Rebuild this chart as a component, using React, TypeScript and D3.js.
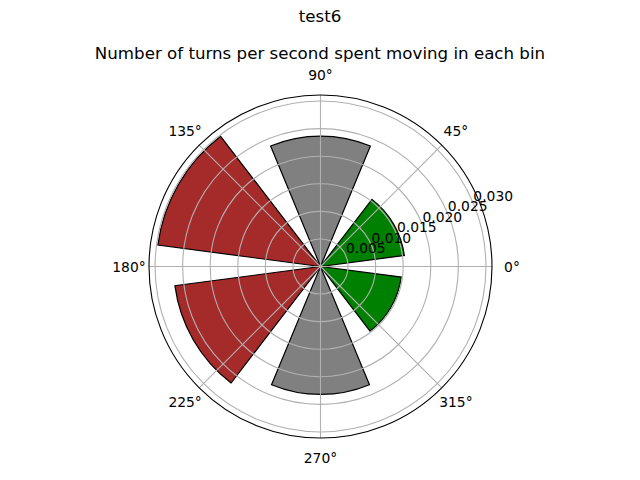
import React, { useRef, useEffect } from 'react';
import * as d3 from 'd3';

// bin centres (degrees) and bar heights
const binCentres = [30, 90, 150, 210, 270, 330];
const binValues = [0.01534, 0.02364, 0.02975, 0.02663, 0.0232, 0.01476];
const binColors = ['green', 'gray', 'brown', 'brown', 'gray', 'green'];
const angleTicks = [0, 45, 90, 135, 180, 225, 270, 315];
const radialTicks = [0.005, 0.01, 0.015, 0.02, 0.025, 0.03];
const radialLabels = ['0.005', '0.010', '0.015', '0.020', '0.025', '0.030'];
const figTitle = 'test6';
const axTitle = 'Number of turns per second spent moving in each bin';

const App = () => {
    const svgRef = useRef<SVGSVGElement>(null);
    const width = 640;
    const height = 480;
    const cx = 320.5;
    const cy = 266.5;
    const R = 171.5;
    const rmax = 0.0311;
    const barWidth = Math.PI / 4;

    useEffect(() => {
        const svg = d3.select(svgRef.current);
        svg.selectAll('*').remove();
        const font = 'DejaVu Sans, sans-serif';

        const r = d3.scaleLinear().domain([0, rmax]).range([0, R]);
        const g = svg.append('g').attr('transform', `translate(${cx},${cy})`);

        // white axes background
        g.append('circle').attr('r', R).attr('fill', 'white');

        // bars (matplotlib angle -> d3 angle)
        const arc = d3.arc<any>()
            .innerRadius(0)
            .outerRadius((d: any) => r(d.v))
            .startAngle((d: any) => Math.PI / 2 - (d.t + barWidth / 2))
            .endAngle((d: any) => Math.PI / 2 - (d.t - barWidth / 2));

        const bars = binCentres.map((c, i) => ({ t: (c * Math.PI) / 180, v: binValues[i], col: binColors[i] }));
        g.selectAll('path.bar')
            .data(bars)
            .join('path')
            .attr('class', 'bar')
            .attr('d', (d: any) => arc(d))
            .attr('fill', (d: any) => d.col)
            .attr('stroke', 'black')
            .attr('stroke-width', 1.2)
            .attr('stroke-linejoin', 'miter');

        // grid circles
        g.selectAll('circle.grid')
            .data(radialTicks)
            .join('circle')
            .attr('class', 'grid')
            .attr('r', (d) => r(d))
            .attr('fill', 'none')
            .attr('stroke', '#b0b0b0')
            .attr('stroke-width', 1.1);

        // angular grid lines
        g.selectAll('line.grid')
            .data(angleTicks)
            .join('line')
            .attr('class', 'grid')
            .attr('x1', 0)
            .attr('y1', 0)
            .attr('x2', (d) => R * Math.cos((d * Math.PI) / 180))
            .attr('y2', (d) => -R * Math.sin((d * Math.PI) / 180))
            .attr('stroke', '#b0b0b0')
            .attr('stroke-width', 1.1);

        // spine
        g.append('circle')
            .attr('r', R)
            .attr('fill', 'none')
            .attr('stroke', 'black')
            .attr('stroke-width', 1.1);

        // angle labels
        g.selectAll('text.theta')
            .data(angleTicks)
            .join('text')
            .attr('class', 'theta')
            .attr('x', (d) => (R + 20) * Math.cos((d * Math.PI) / 180))
            .attr('y', (d) => -(R + 20) * Math.sin((d * Math.PI) / 180))
            .attr('text-anchor', 'middle')
            .attr('dominant-baseline', 'central')
            .attr('font-family', font)
            .attr('font-size', 13.89)
            .text((d) => `${d}°`);

        // radial labels at 22.5 deg
        const la = (22.5 * Math.PI) / 180;
        g.selectAll('text.rlab')
            .data(radialTicks)
            .join('text')
            .attr('class', 'rlab')
            .attr('x', (d) => r(d) * Math.cos(la))
            .attr('y', (d) => -r(d) * Math.sin(la) - 2.5)
            .attr('text-anchor', 'start')
            .attr('font-family', font)
            .attr('font-size', 13.89)
            .text((d, i) => radialLabels[i]);

        // titles
        svg.append('text')
            .attr('x', 320)
            .attr('y', 22)
            .attr('text-anchor', 'middle')
            .attr('font-family', font)
            .attr('font-size', 16.67)
            .text(figTitle);

        svg.append('text')
            .attr('x', 320)
            .attr('y', 59)
            .attr('text-anchor', 'middle')
            .attr('font-family', font)
            .attr('font-size', 16.67)
            .text(axTitle);
    }, []);

    return (
        <div style={{ position: 'fixed', left: 0, top: 0 }}>
            <svg ref={svgRef} width={width} height={height} style={{ display: 'block', background: 'white' }} />
        </div>
    );
};

export default App;
